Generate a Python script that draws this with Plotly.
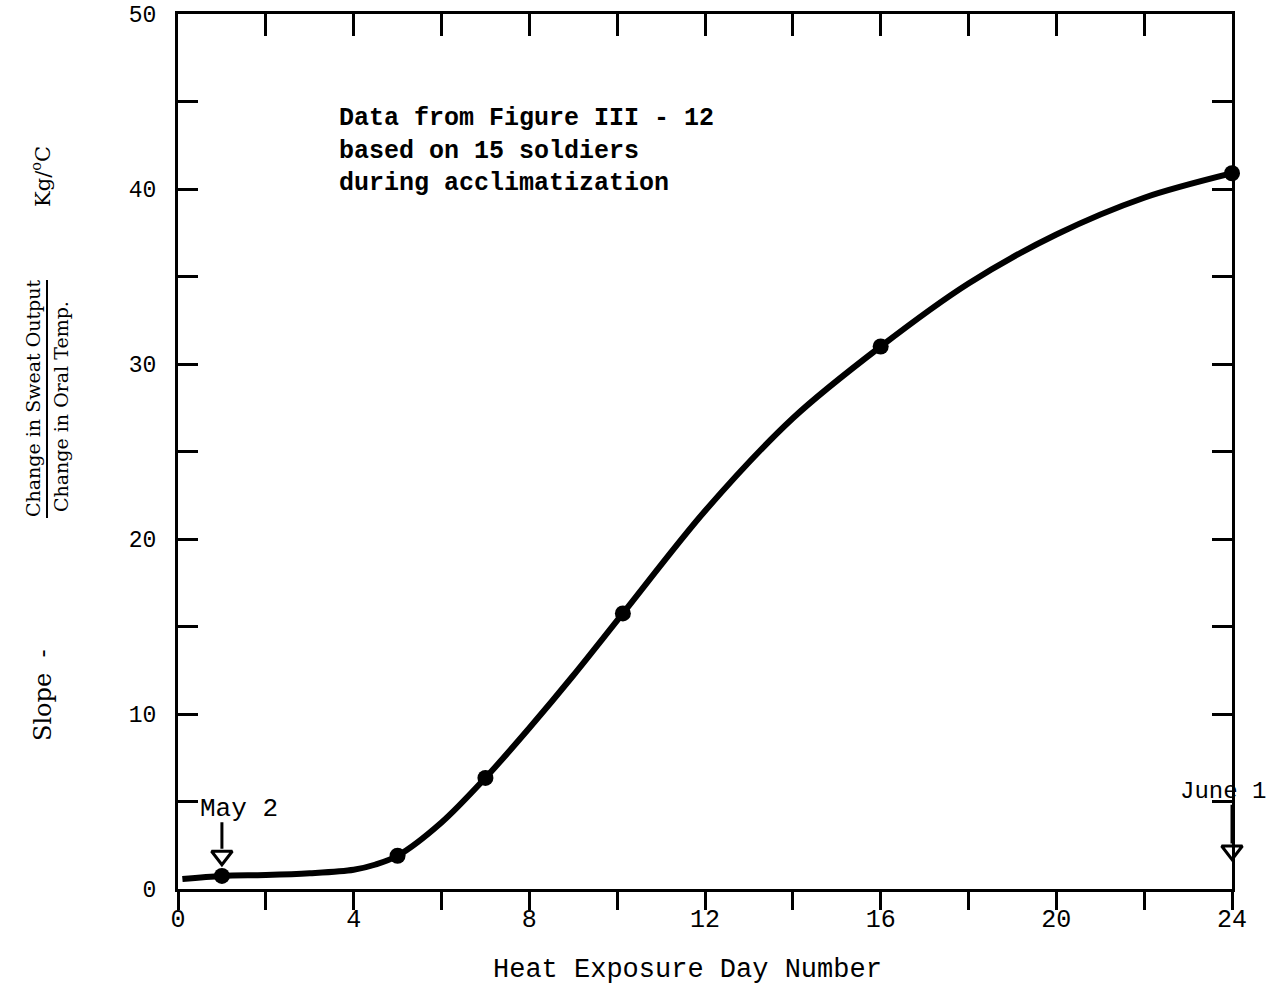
import plotly.graph_objects as go

# Data points (day, slope)
point_days = [1, 5, 7, 10.13, 16, 24]
point_slopes = [0.75, 1.9, 6.35, 15.75, 31.0, 40.9]

# Smooth curve
curve_days = [0.1, 1, 2, 3, 4, 4.5, 5, 6, 7, 8, 9, 10.13, 12, 14, 16, 18, 20, 22, 24]
curve_slopes = [0.57, 0.75, 0.8, 0.9, 1.1, 1.4, 1.9, 3.8, 6.35, 9.2, 12.2, 15.75, 21.6, 26.9, 31.0, 34.6, 37.4, 39.5, 40.9]

x_ticks = list(range(0, 25, 2))
x_tick_text = [str(v) if v % 4 == 0 else "" for v in x_ticks]
y_ticks = list(range(0, 51, 5))
y_tick_text = [str(v) if v % 10 == 0 else "" for v in y_ticks]

MONO = "Liberation Mono"
SERIF = "DejaVu Serif"

L, R, T, B = 178, 38, 14, 100
W, H = 1270, 989
pw, ph = W - L - R, H - T - B


def px2paper(px, py):
    return (px - L) / pw, (H - B - py) / ph


fig = go.Figure()
fig.add_trace(go.Scatter(x=curve_days, y=curve_slopes, mode="lines",
                         line=dict(color="black", width=6, shape="spline", smoothing=0.9),
                         hoverinfo="skip", showlegend=False))
fig.add_trace(go.Scatter(x=point_days, y=point_slopes, mode="markers",
                         marker=dict(color="black", size=16),
                         cliponaxis=False, showlegend=False))
# arrow heads (hollow triangles) for May 2 and June 1
fig.add_trace(go.Scatter(x=[1, 24], y=[1.9, 2.2], mode="markers",
                         marker=dict(symbol="triangle-down-open", size=18, color="black",
                                     line=dict(width=3, color="black")),
                         cliponaxis=False, hoverinfo="skip", showlegend=False))
# dummy trace to activate xaxis2
fig.add_trace(go.Scatter(x=[0], y=[0], xaxis="x2", mode="markers",
                         marker=dict(opacity=0), hoverinfo="skip", showlegend=False))

fig.update_layout(
    width=W, height=H,
    margin=dict(l=L, r=R, t=T, b=B),
    plot_bgcolor="white", paper_bgcolor="white",
    xaxis=dict(range=[0, 24], tickvals=x_ticks, ticktext=x_tick_text, automargin=False,
               ticks="outside", ticklen=18, tickwidth=3, tickcolor="black",
               showline=True, linewidth=3, linecolor="black", showgrid=False, zeroline=False,
               ticklabelstandoff=-13,
               tickfont=dict(family=MONO, size=25, color="black")),
    xaxis2=dict(range=[0, 24], overlaying="x", side="top", tickvals=x_ticks, automargin=False,
                ticks="inside", ticklen=22, tickwidth=3, tickcolor="black",
                showticklabels=False, showline=True, linewidth=3, linecolor="black",
                showgrid=False, zeroline=False),
    yaxis=dict(range=[0, 50], tickvals=y_ticks, ticktext=y_tick_text, automargin=False,
               ticks="inside", ticklen=20, tickwidth=3, tickcolor="black",
               showline=True, linewidth=3, linecolor="black", mirror="ticks",
               showgrid=False, zeroline=False, ticklabelstandoff=14,
               tickfont=dict(family=MONO, size=23, color="black")),
)

ann = []
tx, ty = px2paper(337, 102)
ann.append(dict(x=tx, y=ty, xref="paper", yref="paper", xanchor="left", yanchor="top",
                text="<b>Data from Figure III - 12<br>based on 15 soldiers<br>during acclimatization</b>",
                showarrow=False, align="left", font=dict(family=MONO, size=25, color="black")))
# X title
tx, ty = px2paper(687, 970)
ann.append(dict(x=tx, y=ty, xref="paper", yref="paper", xanchor="center", yanchor="middle",
                text="Heat Exposure Day Number", showarrow=False,
                font=dict(family=MONO, size=27, color="black")))
# May 2
ann.append(dict(x=0.45, y=4.6, xref="x", yref="y", xanchor="left", text="May 2",
                showarrow=False, font=dict(family=MONO, size=26, color="black")))
ann.append(dict(x=1, y=2.3, ax=1, ay=3.9, xref="x", yref="y", axref="x", ayref="y",
                text="", showarrow=True, arrowhead=0, arrowwidth=3, arrowcolor="black"))
# June 1
ann.append(dict(x=23.8, y=5.6, xref="x", yref="y", xanchor="center", text="June 1",
                showarrow=False, font=dict(family=MONO, size=24, color="black")))
ann.append(dict(x=24, y=2.6, ax=24, ay=4.9, xref="x", yref="y", axref="x", ayref="y",
                text="", showarrow=True, arrowhead=0, arrowwidth=3, arrowcolor="black"))
# Y axis title pieces (text, pixel x, pixel y, size)
ytitle = [("Slope  -", 43, 695, 24), ("Change in Sweat Output", 33, 398, 19),
          ("Change in Oral Temp.", 61, 407, 19), ("Kg/<sup>o</sup>C", 41, 177, 21)]
for txt, px, py, fs in ytitle:
    ax_, ay_ = px2paper(px, py)
    ann.append(dict(x=ax_, y=ay_, xref="paper", yref="paper", xanchor="center", yanchor="middle",
                    text=txt, textangle=-90, showarrow=False,
                    font=dict(family=SERIF, size=fs, color="black")))
fig.update_layout(annotations=ann)

lx0, ly0 = px2paper(47, 280)
lx1, ly1 = px2paper(47, 518)
fig.add_shape(type="line", xref="paper", yref="paper", x0=lx0, x1=lx1, y0=ly0, y1=ly1,
              line=dict(color="black", width=2))

fig.write_html("out.html")
